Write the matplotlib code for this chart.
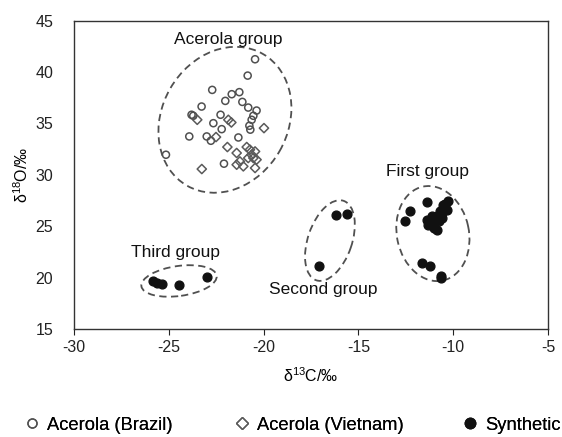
import matplotlib
matplotlib.use('Agg')
import matplotlib.pyplot as plt
from matplotlib.patches import Ellipse
from matplotlib.lines import Line2D
from matplotlib.transforms import ScaledTranslation

plt.rcParams['font.family'] = ['Liberation Sans', 'DejaVu Sans']
plt.rcParams['mathtext.default'] = 'regular'
plt.rcParams['axes.unicode_minus'] = False

# Acerola (Brazil) -- open circles
brazil_x = [-20.45, -20.84, -22.71, -21.68, -21.28, -22.02, -21.12, -23.27, -20.81,
            -20.37, -23.80, -23.71, -22.27, -20.54, -22.65, -20.63, -22.21, -20.75,
            -23.92, -23.00, -22.78, -21.33, -25.15, -22.09, -20.70]
brazil_y = [41.25, 39.66, 38.27, 37.85, 38.05, 37.20, 37.10, 36.65, 36.55,
            36.26, 35.85, 35.75, 35.85, 35.75, 35.03, 35.36, 34.45, 34.78,
            33.74, 33.74, 33.32, 33.64, 31.96, 31.09, 34.40]

# Acerola (Vietnam) -- open diamonds
vietnam_x = [-23.50, -21.86, -21.70, -22.51, -19.98, -21.91, -21.42, -20.89, -20.72,
             -20.45, -20.63, -20.54, -20.37, -20.81, -21.25, -23.26, -21.42, -21.07,
             -20.45]
vietnam_y = [35.36, 35.36, 35.10, 33.68, 34.55, 32.71, 32.13, 32.71, 32.45,
             32.28, 31.96, 31.64, 31.48, 31.64, 31.31, 30.57, 30.99, 30.83,
             30.67]

# Synthetic -- filled dots
synth_x = [-11.40, -12.28, -12.54, -10.26, -10.52, -10.34, -10.70, -10.87, -11.14,
           -11.40, -11.31, -11.05, -10.84, -11.00, -10.61, -10.45, -10.45, -10.60,
           -11.00, -10.75, -11.20, -11.66, -11.22, -10.66, -10.62,
           -16.18, -15.59, -17.08,
           -25.82, -25.60, -25.37, -24.45, -23.00]
synth_y = [27.33, 26.46, 25.48, 27.43, 27.10, 26.62, 26.46, 25.97, 25.97,
           25.65, 25.17, 25.17, 24.68, 24.80, 25.80, 26.90, 27.20, 26.30,
           25.50, 25.50, 25.40, 21.44, 21.18, 20.15, 20.00,
           26.14, 26.23, 21.12,
           19.66, 19.50, 19.34, 19.24, 20.09]

# group labels
group_names = ['Acerola group', 'First group', 'Second group', 'Third group']
label_x = [-21.88, -11.38, -16.87, -24.67]
label_y = [43.13, 30.31, 18.86, 22.45]

# group outlines: centre in data units, width/height in inches, angle in degrees
ell_cx = [-22.04, -11.07, -16.50, -24.46]
ell_cy = [35.36, 24.29, 23.61, 19.68]
ell_w = [1.52, 0.96, 0.84, 0.76]
ell_h = [1.26, 0.72, 0.44, 0.30]
ell_ang = [60, 102, 71, 8]

legend_names = ['Acerola (Brazil)', 'Acerola (Vietnam)', 'Synthetic']
legend_x = [0.0441, 0.4178, 0.8235]

fig = plt.figure(figsize=(5.62, 4.37), dpi=100)
ax = fig.add_axes([0.1317, 0.247, 0.8433, 0.7056])

ax.scatter(brazil_x, brazil_y, s=26, facecolors='none', edgecolors='#505050', linewidths=1.1, zorder=3)
ax.scatter(vietnam_x, vietnam_y, s=22, marker='D', facecolors='none', edgecolors='#5a5a5a', linewidths=1.1, zorder=3)
ax.scatter(synth_x, synth_y, s=40, color='#111111', zorder=3)

for i in range(len(ell_cx)):
    tr = fig.dpi_scale_trans + ScaledTranslation(ell_cx[i], ell_cy[i], ax.transData)
    e = Ellipse((0, 0), ell_w[i], ell_h[i], angle=ell_ang[i], transform=tr,
                fill=False, edgecolor='#505050', linestyle=(0, (4, 2.5)), linewidth=1.3)
    ax.add_patch(e)

for name, lx, ly in zip(group_names, label_x, label_y):
    ax.text(lx, ly, name, ha='center', va='center', fontsize=12.5, color='#111111')

ax.set_xlim(-30, -5)
ax.set_ylim(15, 45)
ax.set_xticks([-30, -25, -20, -15, -10, -5])
ax.set_yticks([15, 20, 25, 30, 35, 40, 45])
ax.tick_params(axis='x', direction='out', length=4, labelsize=11.5, colors='#222222', pad=4)
ax.tick_params(axis='y', length=0, labelsize=11.5, colors='#222222', pad=15)
for sp in ax.spines.values():
    sp.set_color('#333333')
    sp.set_linewidth(1.0)

ax.set_xlabel('δ$^{13}$C/‰', fontsize=11.5, labelpad=8)
ax.set_ylabel('δ$^{18}$O/‰', fontsize=11.5, labelpad=3)

handles = [
    Line2D([], [], linestyle='none', marker='o', markersize=6.5, markerfacecolor='none',
           markeredgecolor='#505050', markeredgewidth=1.0),
    Line2D([], [], linestyle='none', marker='D', markersize=6, markerfacecolor='none',
           markeredgecolor='#5a5a5a', markeredgewidth=1.0),
    Line2D([], [], linestyle='none', marker='o', markersize=7.5, color='#111111'),
]
for h, name, lx in zip(handles, legend_names, legend_x):
    leg = fig.legend([h], [name], loc='center left', bbox_to_anchor=(lx, 0.027),
                     frameon=False, fontsize=13.2, handlelength=0.8, handletextpad=0.4,
                     borderpad=0, borderaxespad=0)
    fig.add_artist(leg)

fig.savefig('out.png', dpi=100)
